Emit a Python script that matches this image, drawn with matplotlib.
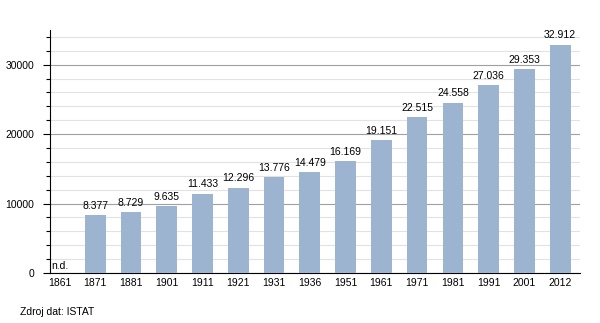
import matplotlib
matplotlib.use("Agg")
import matplotlib.pyplot as plt
from matplotlib.ticker import MultipleLocator

# Census population, 1861 has no data
years = ["1861", "1871", "1881", "1901", "1911", "1921", "1931", "1936",
         "1951", "1961", "1971", "1981", "1991", "2001", "2012"]
population = [None, 8377, 8729, 9635, 11433, 12296, 13776, 14479,
              16169, 19151, 22515, 24558, 27036, 29353, 32912]

BAR = "#9cb4cf"
FS = 7.5

plt.rcParams["font.family"] = ["Liberation Sans", "DejaVu Sans"]
plt.rcParams["font.size"] = FS

fig = plt.figure(figsize=(6, 3.23), dpi=100)
ax = fig.add_axes([0.083, 0.155, 0.884, 0.752])

xs = list(range(len(years)))
heights = [v if v is not None else 0 for v in population]
ax.bar(xs, heights, width=0.58, color=BAR, zorder=3)

for x, v in zip(xs, population):
    if v is None:
        ax.text(x - 0.22, 300, "n.d.", ha="left", va="bottom", fontsize=FS, zorder=4)
    else:
        label = f"{v:,}".replace(",", ".")
        ax.text(x, v + 600, label, ha="center", va="bottom", fontsize=FS, zorder=4)

ax.set_xlim(-0.27, 14.56)
ax.set_ylim(0, 35000)
ax.yaxis.set_major_locator(MultipleLocator(10000))
ax.yaxis.set_minor_locator(MultipleLocator(2000))
ax.grid(which="major", axis="y", color="#a0a0a0", linewidth=0.8, zorder=1)
ax.grid(which="minor", axis="y", color="#e2e2e2", linewidth=0.8, zorder=1)

ax.set_xticks(xs)
ax.set_xticklabels(years)
ax.tick_params(axis="x", length=0, pad=4)
ax.tick_params(axis="y", which="major", length=5, width=0.8, pad=6)
ax.tick_params(axis="y", which="minor", length=3, width=0.8)

for side in ("top", "right"):
    ax.spines[side].set_visible(False)
ax.spines["left"].set_linewidth(0.8)
ax.spines["bottom"].set_linewidth(0.8)

fig.text(20 / 600, 1 - 312 / 323, "Zdroj dat: ISTAT", ha="left", va="center", fontsize=FS)

fig.savefig("out.png", dpi=100)
